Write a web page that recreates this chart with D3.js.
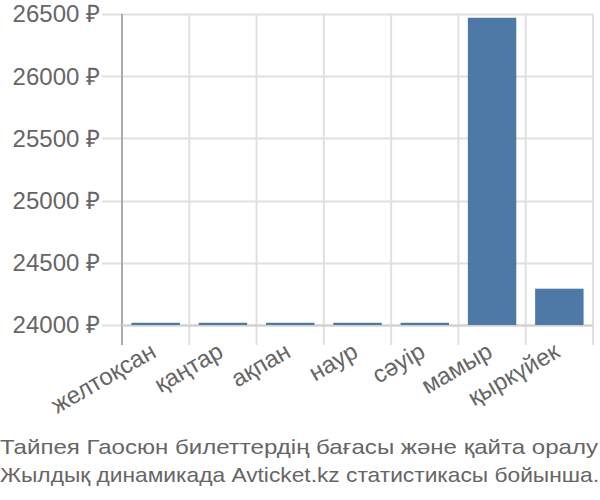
<!DOCTYPE html>
<html><head><meta charset="utf-8">
<script src="https://cdn.jsdelivr.net/npm/d3@7"></script>
<style>body{margin:0;background:#fff}svg{display:block}text{font-family:"Liberation Sans",Arial,sans-serif}</style>
</head><body>
<script>
const categories = ["желтоқсан","қаңтар","ақпан","наур","сәуір","мамыр","қыркүйек"];
const values = [24018, 24018, 24018, 24018, 24018, 26470, 24292];
const yTicks = [24000, 24500, 25000, 25500, 26000, 26500];
const titleLines = ["Тайпея Гаосюн билеттердің бағасы және қайта оралу","Жылдық динамикада Avticket.kz статистикасы бойынша."];

const W = 600, H = 500;
const m = {left:122, right:7, top:14, bottom:175};
const svg = d3.select("body").append("svg").attr("width",W).attr("height",H);
const x = d3.scaleBand().domain(categories).range([m.left, W-m.right]).paddingInner(0.28).paddingOuter(0.14);
const y = d3.scaleLinear().domain([24000, 26500]).range([H-m.bottom, m.top]);
const baseY = y(24000);
const step = x.step();
const edges = d3.range(categories.length+1).map(i => m.left + i*step);

// horizontal gridlines
svg.append("g").selectAll("line").data(yTicks).join("line")
  .attr("x1", 102).attr("x2", W-m.right)
  .attr("y1", d=>Math.round(y(d))+0.5).attr("y2", d=>Math.round(y(d))+0.5)
  .attr("stroke", "#e0e0e0").attr("stroke-width", 2);
// vertical gridlines
svg.append("g").selectAll("line").data(edges).join("line")
  .attr("x1", d=>d).attr("x2", d=>d)
  .attr("y1", m.top).attr("y2", baseY+20)
  .attr("stroke", (d,i)=> i===0 ? "#aaa" : "#e0e0e0").attr("stroke-width", 2);
// baseline
svg.append("line").attr("x1", m.left).attr("x2", W-m.right).attr("y1", baseY+0.5).attr("y2", baseY+0.5)
  .attr("stroke","#d0d0d0").attr("stroke-width",2);

// bars
svg.append("g").selectAll("rect").data(values).join("rect")
  .attr("x", (d,i)=>x(categories[i]))
  .attr("width", x.bandwidth())
  .attr("y", d=>y(d))
  .attr("height", d=>baseY - y(d))
  .attr("fill", "#4e79a7");

// y labels
svg.append("g").selectAll("text").data(yTicks).join("text")
  .attr("x", 100).attr("y", d=>y(d)).attr("dy","0.35em")
  .attr("text-anchor","end").attr("font-size",24).attr("fill","#666")
  .text(d=>d+" ₽");

// x labels
svg.append("g").selectAll("text").data(categories).join("text")
  .attr("transform", d=>`translate(${x(d)+x.bandwidth()/2+2},${baseY+31}) rotate(-30)`)
  .attr("text-anchor","end").attr("font-size",24).attr("fill","#666")
  .text(d=>d);

// title
svg.append("g").selectAll("text").data(titleLines).join("text")
  .attr("x", 0).attr("y", (d,i)=>454 + i*28)
  .attr("font-size",21).attr("fill","#666")
  .attr("textLength", (d,i)=> i===0 ? 598 : 599).attr("lengthAdjust","spacingAndGlyphs")
  .text(d=>d);
</script>
</body></html>
